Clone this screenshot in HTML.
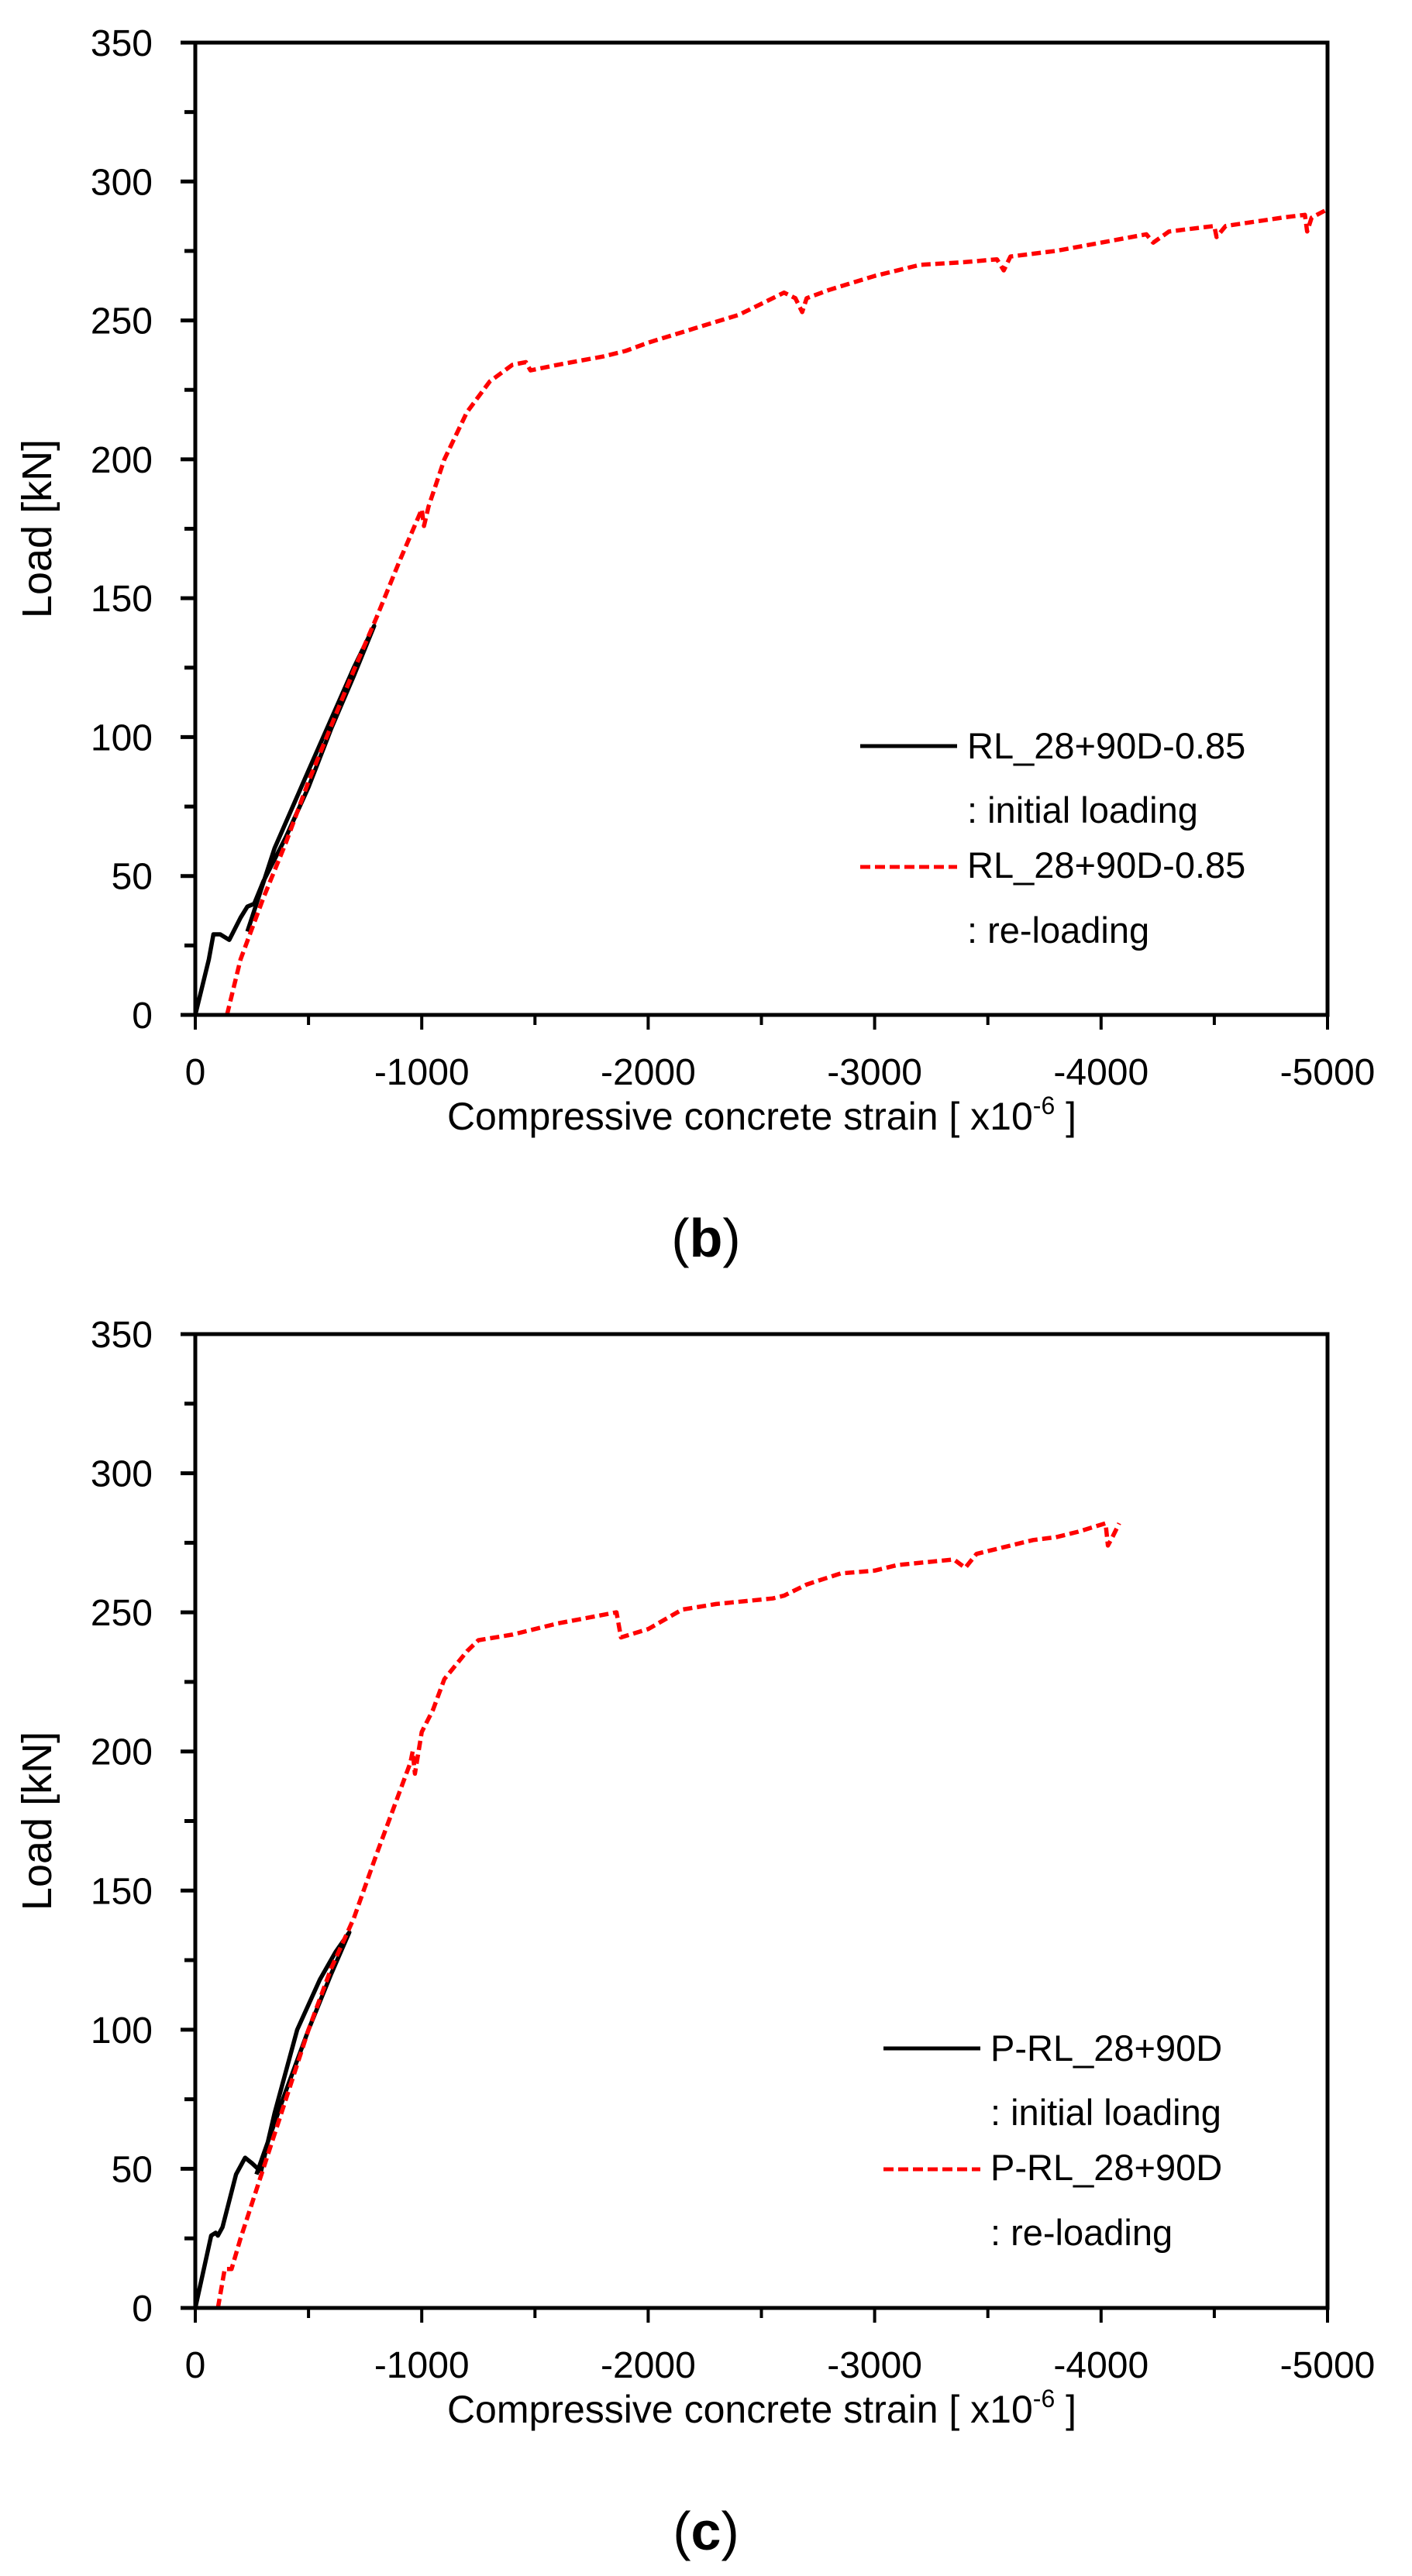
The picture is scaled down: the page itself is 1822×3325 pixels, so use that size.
<!DOCTYPE html>
<html><head><meta charset="utf-8">
<style>
html,body{margin:0;padding:0;background:#fff;}
svg{display:block;}
text{font-family:"Liberation Sans",sans-serif;fill:#000;}
</style></head>
<body>
<svg id="s" width="1822" height="3325" xmlns="http://www.w3.org/2000/svg">
<rect width="1822" height="3325" fill="#fff"/>
<g id="g1"></g>
<g id="g2"></g>
</svg>
<script>
var NS="http://www.w3.org/2000/svg";
function el(p,t,a,txt){var e=document.createElementNS(NS,t);for(var k in a)e.setAttribute(k,a[k]);if(txt!==undefined)e.textContent=txt;p.appendChild(e);return e;}
function chart(g,top,bot,black,red,leg,lx,lyLine,label){
 var L=252,R=1713;
 var X=function(s){return L+s*(R-L)/5000;};
 var Y=function(v){return bot-v*(bot-top)/350;};
 function path(d,attrs){var s="";d.forEach(function(p,i){s+=(i?"L":"M")+X(p[0]).toFixed(1)+","+Y(p[1]).toFixed(1);});attrs.d=s;attrs.fill="none";el(g,"path",attrs);}
 path(black,{stroke:"#000","stroke-width":5.5,"stroke-linejoin":"round"});
 path(red,{stroke:"#f00","stroke-width":5.5,"stroke-dasharray":"12,6","stroke-linejoin":"round"});
 el(g,"rect",{x:L,y:top,width:R-L,height:bot-top,fill:"none",stroke:"#000","stroke-width":5});
 for(var v=0;v<=350;v+=25){var maj=v%50==0;el(g,"line",{x1:L-(maj?19:14),x2:L,y1:Y(v),y2:Y(v),stroke:"#000","stroke-width":5});
  if(maj)el(g,"text",{x:197,y:Y(v)+17,"font-size":48,"text-anchor":"end"},""+v);}
 for(var s=0;s<=5000;s+=500){var maj=s%1000==0;el(g,"line",{x1:X(s),x2:X(s),y1:bot,y2:bot+(maj?19:13),stroke:"#000","stroke-width":4});
  if(maj)el(g,"text",{x:X(s),y:bot+90,"font-size":48,"text-anchor":"middle"},s==0?"0":"-"+s);}
 var t=el(g,"text",{x:983,y:bot+148,"font-size":50,"text-anchor":"middle"},"Compressive concrete strain [ x10");
 el(t,"tspan",{dy:-20,"font-size":32},"-6");
 el(t,"tspan",{dy:20,"font-size":50}," ]");
 el(g,"text",{transform:"translate(66,"+((top+bot)/2)+") rotate(-90)","font-size":54,"text-anchor":"middle"},"Load [kN]");
 var c=el(g,"text",{x:911,y:bot+312,"font-size":70,"text-anchor":"middle","font-family":"Liberation Serif, serif"},"(");
 el(c,"tspan",{"font-weight":"bold"},label);el(c,"tspan",{},")");
 el(g,"line",{x1:lx,x2:lx+125,y1:lyLine,y2:lyLine,stroke:"#000","stroke-width":5});
 el(g,"line",{x1:lx,x2:lx+125,y1:lyLine+156,y2:lyLine+156,stroke:"#f00","stroke-width":5,"stroke-dasharray":"13,6"});
 var tx=lx+138;
 el(g,"text",{x:tx,y:lyLine+16,"font-size":47},leg);
 el(g,"text",{x:tx,y:lyLine+99,"font-size":47},": initial loading");
 el(g,"text",{x:tx,y:lyLine+170,"font-size":47},leg);
 el(g,"text",{x:tx,y:lyLine+254,"font-size":47},": re-loading");
}
var b1=[[0,0],[60,20],[80,29],[110,29],[150,27],[200,35],[230,39],[260,40],[300,48],[400,64],[500,82],[600,103],[700,122],[790,140],[700,125],[500,88],[350,60],[250,35],[230,30]];
var r1=[[140,0],[200,20],[300,42],[400,62],[500,84],[600,104],[700,124],[800,143],[900,163],[1000,182],[1010,176],[1030,183],[1100,200],[1200,217],[1300,228],[1400,234],[1460,235],[1480,232],[1600,234],[1800,237],[1900,239],[2000,242],[2200,247],[2400,252],[2500,256],[2600,260],[2650,258],[2680,253],[2700,258],[2800,261],[3000,266],[3200,270],[3400,271],[3540,272],[3570,268],[3600,273],[3800,275],[4000,278],[4200,281],[4230,278],[4300,282],[4500,284],[4510,280],[4550,284],[4800,287],[4900,288],[4910,282],[4930,287],[5000,290]];
var b2=[[0,0],[70,26],[90,27],[100,26],[120,29],[180,48],[220,54],[250,52],[290,49],[350,70],[450,100],[550,118],[620,128],[680,135],[600,120],[500,100],[400,78],[300,55],[270,48]];
var r2=[[100,0],[130,14],[160,14],[200,25],[300,50],[400,75],[500,100],[600,122],[700,140],[800,163],[900,185],[950,196],[960,200],[970,192],[1000,207],[1050,215],[1100,226],[1200,236],[1250,240],[1400,242],[1600,246],[1860,250],[1880,241],[2000,244],[2150,251],[2300,253],[2550,255],[2600,256],[2700,260],[2850,264],[3000,265],[3100,267],[3350,269],[3400,266],[3450,271],[3500,272],[3700,276],[3800,277],[3900,279],[4020,282],[4030,274],[4050,277],[4080,282]];
chart(document.getElementById("g1"),55,1310,b1,r1,"RL_28+90D-0.85",1110,963,"b");
chart(document.getElementById("g2"),1722,2979,b2,r2,"P-RL_28+90D",1140,2644,"c");
</script>
</body></html>
